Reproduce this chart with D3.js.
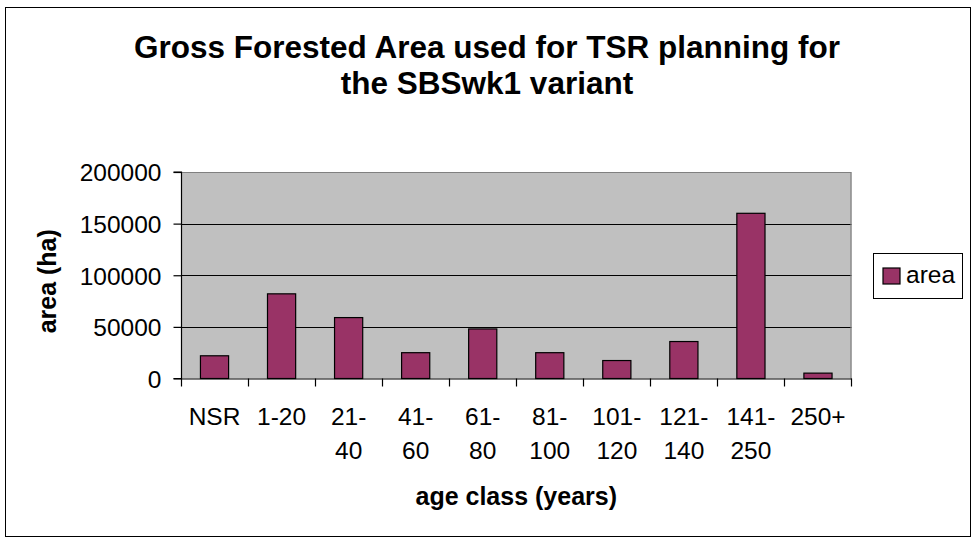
<!DOCTYPE html>
<html>
<head>
<meta charset="utf-8">
<script src="https://cdn.jsdelivr.net/npm/d3@7"></script>
<style>
  html, body { margin: 0; padding: 0; background: #fff; }
  svg { display: block; font-family: "Liberation Sans", Arial, sans-serif; }
</style>
</head>
<body>
<svg id="chart" width="972" height="542"></svg>
<script>
// ---- data ----
const categories = ["NSR", "1-20", "21-40", "41-60", "61-80", "81-100", "101-120", "121-140", "141-250", "250+"];
const tickLabels = ["NSR", "1-20", "21-\n40", "41-\n60", "61-\n80", "81-\n100", "101-\n120", "121-\n140", "141-\n250", "250+"];
const areaValues = [22000, 82000, 59000, 25000, 48000, 25000, 17400, 35800, 160000, 5200];
const yTicks = [0, 50000, 100000, 150000, 200000];
const seriesName = "area";
const titleLines = ["Gross Forested Area used for TSR planning for", "the SBSwk1 variant"];
const xTitle = "age class (years)";
const yTitle = "area (ha)";

// ---- layout ----
const svg = d3.select("#chart");
const plot = { left: 181, right: 851.5, top: 172, bottom: 378.5 };
const barColor = "#993366";

// outer chart border
svg.append("rect").attr("x", 5.5).attr("y", 7.5).attr("width", 965).attr("height", 529)
  .attr("fill", "#fff").attr("stroke", "#000").attr("stroke-width", 1);

const x = d3.scaleBand().domain(categories).range([plot.left, plot.right])
  .paddingInner(0.58).paddingOuter(0.29);
const y = d3.scaleLinear().domain([0, 200000]).range([plot.bottom, plot.top]);

// plot background
svg.append("rect").attr("x", plot.left).attr("y", plot.top)
  .attr("width", plot.right - plot.left).attr("height", plot.bottom - plot.top)
  .attr("fill", "#C0C0C0");

// gridlines
svg.append("g").selectAll("line").data(yTicks.filter(d => d > 0 && d < 200000)).join("line")
  .attr("x1", plot.left).attr("x2", plot.right)
  .attr("y1", d => Math.round(y(d)) + 0.5).attr("y2", d => Math.round(y(d)) + 0.5)
  .attr("stroke", "#000").attr("stroke-width", 1.2);

// top & right plot border (gray)
svg.append("path")
  .attr("d", `M${plot.left},${plot.top + 0.5}H${plot.right - 0.5}V${plot.bottom}`)
  .attr("fill", "none").attr("stroke", "#808080").attr("stroke-width", 1.2);

// bars
svg.append("g").selectAll("rect").data(categories).join("rect")
  .attr("x", d => x(d))
  .attr("y", (d, i) => y(areaValues[i]))
  .attr("width", x.bandwidth())
  .attr("height", (d, i) => y(0) - y(areaValues[i]))
  .attr("fill", barColor).attr("stroke", "#000").attr("stroke-width", 1.2);

// y axis
const yAxis = d3.axisLeft(y).tickValues(yTicks).tickSize(8).tickPadding(12).tickFormat(d3.format("d"));
const gy = svg.append("g").attr("transform", `translate(${plot.left + 0.5},0)`).call(yAxis);
gy.select(".domain").attr("stroke", "#000").attr("stroke-width", 1.2).attr("d", `M-8,${plot.bottom}H0V${plot.top}H-8`);
gy.selectAll(".tick line").attr("stroke", "#000").attr("stroke-width", 1.2);
gy.selectAll(".tick text").attr("font-size", 24.5).attr("fill", "#000")
  .attr("font-family", "Liberation Sans, Arial, sans-serif").attr("dy", "0.36em");

// x axis with boundary ticks
const xAxisG = svg.append("g");
xAxisG.append("line").attr("x1", plot.left).attr("x2", plot.right + 0.5)
  .attr("y1", plot.bottom + 0.5).attr("y2", plot.bottom + 0.5)
  .attr("stroke", "#000").attr("stroke-width", 1.2);
const boundaries = categories.map(c => x(c) - x.step() * x.paddingInner() / 2)
  .concat([x(categories[categories.length - 1]) + x.bandwidth() + x.step() * x.paddingInner() / 2]);
xAxisG.selectAll("line.tk").data(boundaries).join("line").attr("class", "tk")
  .attr("x1", d => Math.round(d) + 0.5).attr("x2", d => Math.round(d) + 0.5)
  .attr("y1", plot.bottom).attr("y2", plot.bottom + 8)
  .attr("stroke", "#000").attr("stroke-width", 1.2);
const xl = xAxisG.selectAll("text").data(categories).join("text")
  .attr("text-anchor", "middle").attr("font-size", 24.5).attr("fill", "#000")
  .attr("transform", d => `translate(${x(d) + x.bandwidth() / 2},425)`);
xl.each(function(d, i) {
  const lines = tickLabels[i].split("\n");
  d3.select(this).selectAll("tspan").data(lines).join("tspan")
    .attr("x", 0).attr("y", (l, j) => j * 34).text(l => l);
});

// titles
svg.append("g").selectAll("text").data(titleLines).join("text")
  .attr("x", 487).attr("y", (d, i) => 58 + i * 35.5)
  .attr("text-anchor", "middle").attr("font-weight", "bold").attr("font-size", 31.5)
  .attr("fill", "#000").text(d => d);

svg.append("text").attr("x", (plot.left + plot.right) / 2).attr("y", 505)
  .attr("text-anchor", "middle").attr("font-weight", "bold").attr("font-size", 25)
  .attr("fill", "#000").text(xTitle);

svg.append("text").attr("transform", `translate(56,${(plot.top + plot.bottom) / 2 + 6}) rotate(-90)`)
  .attr("text-anchor", "middle").attr("font-weight", "bold").attr("font-size", 25)
  .attr("fill", "#000").text(yTitle);

// legend
const lg = svg.append("g");
lg.append("rect").attr("x", 873.5).attr("y", 253.5).attr("width", 89).attr("height", 45)
  .attr("fill", "#fff").attr("stroke", "#000").attr("stroke-width", 1);
lg.append("rect").attr("x", 883).attr("y", 268).attr("width", 17).attr("height", 16)
  .attr("fill", barColor).attr("stroke", "#000").attr("stroke-width", 1.2);
lg.append("text").attr("x", 906).attr("y", 283).attr("font-size", 24.5).attr("fill", "#000").text(seriesName);
</script>
</body>
</html>
